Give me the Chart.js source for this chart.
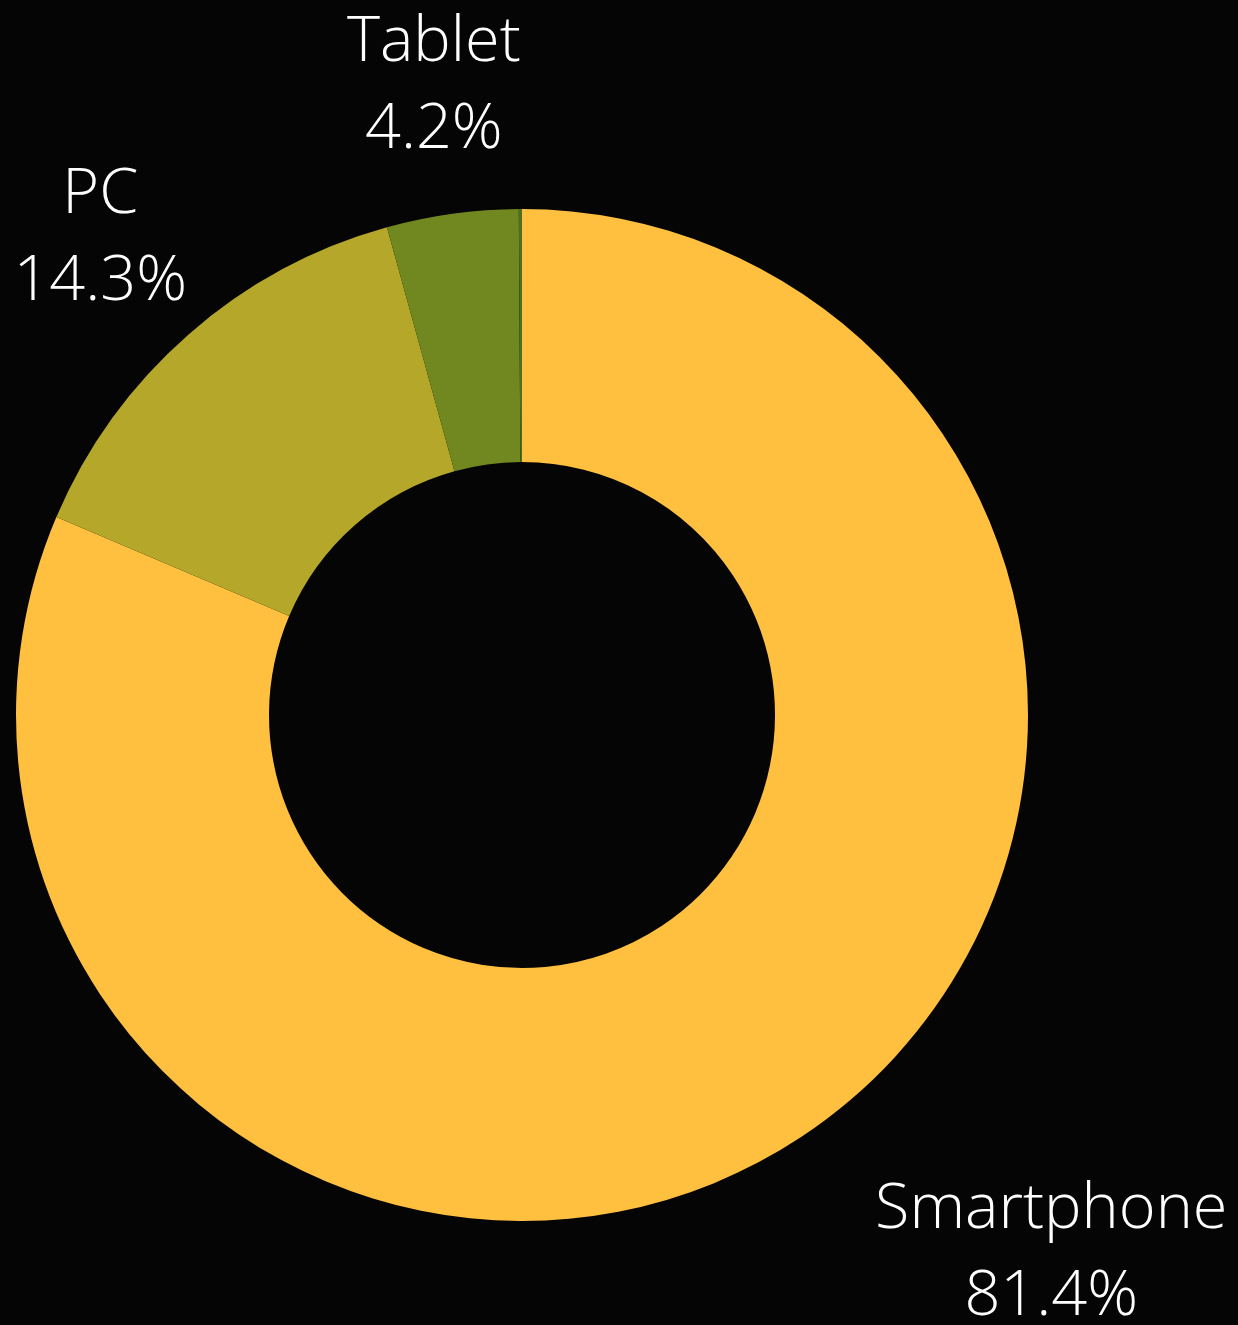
<!DOCTYPE html>
<html>
<head>
<meta charset="utf-8">
<script src="https://cdn.jsdelivr.net/npm/chart.js@4/dist/chart.umd.min.js"></script>
<style>
  html, body { margin: 0; padding: 0; background: #050505; }
  #chart { display: block; }
</style>
</head>
<body>
<canvas id="chart" width="1238" height="1325"></canvas>
<script>
const categories = ["Smartphone", "PC", "Tablet", "Other"];
const shares = [81.4, 14.3, 4.2, 0.1];
const sliceColors = ["#ffbf3f", "#b5a72a", "#71871f", "#4b7020"];

const LABEL_FONT = "300 63px 'Open Sans'";
const LINE_GAP = 87;
const CAP = 46;

// draws "name / value%" outside each slice, along the middle angle
const outsideLabels = {
  id: "outsideLabels",
  afterDatasetsDraw(chart) {
    const ctx = chart.ctx;
    const arcs = chart.getDatasetMeta(0).data;
    const total = shares.reduce((a, b) => a + b, 0);
    ctx.save();
    ctx.font = LABEL_FONT;
    ctx.fillStyle = "#ffffff";
    ctx.textAlign = "center";
    ctx.textBaseline = "alphabetic";
    arcs.forEach((arc, i) => {
      if (shares[i] / total < 0.01) return;
      const mid = (arc.startAngle + arc.endAngle) / 2;
      const dist = arc.outerRadius + 134;
      let cx = arc.x + Math.cos(mid) * dist;
      const cy = arc.y + Math.sin(mid) * dist;
      const l1 = categories[i];
      const l2 = shares[i].toFixed(1) + "%";
      const w = Math.max(ctx.measureText(l1).width, ctx.measureText(l2).width);
      const top = cy - LINE_GAP / 2 - CAP / 2;
      const bottom = cy + LINE_GAP / 2 + CAP / 2;
      // if the box would sit on the ring, push it sideways away from it
      const nearX = cx > arc.x ? cx - w / 2 : cx + w / 2;
      const nearY = cy > arc.y ? top : bottom;
      if (Math.hypot(nearX - arc.x, nearY - arc.y) < arc.outerRadius + 20) {
        cx += (cx > arc.x ? 1 : -1) * w / 2;
      }
      ctx.fillText(l1, cx, cy - LINE_GAP / 2 + CAP / 2);
      ctx.fillText(l2, cx, cy + LINE_GAP / 2 + CAP / 2);
    });
    ctx.restore();
  }
};

new Chart(document.getElementById("chart"), {
  type: "doughnut",
  data: {
    labels: categories,
    datasets: [{
      data: shares,
      backgroundColor: sliceColors,
      borderWidth: 0,
      hoverOffset: 0
    }]
  },
  options: {
    responsive: false,
    animation: false,
    cutout: "50%",
    layout: { padding: { left: 16, right: 210, top: 209, bottom: 104 } },
    plugins: {
      legend: { display: false },
      tooltip: { enabled: false }
    }
  },
  plugins: [outsideLabels]
});
</script>
</body>
</html>
